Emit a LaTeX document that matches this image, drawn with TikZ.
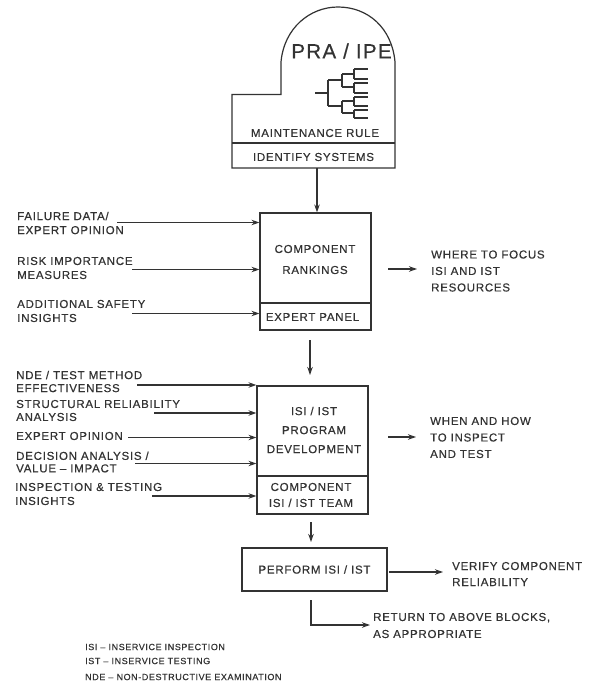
\documentclass[tikz,border=0pt]{standalone}
\usepackage{fontspec}
\setmainfont[LetterSpace=6.5,FakeBold=0.45]{Liberation Sans}
\usetikzlibrary{arrows.meta}
\definecolor{ink}{HTML}{333333}
\tikzset{
  x=1pt,y=-1pt,
  box/.style={draw=ink,line width=1.2pt,inner sep=0pt},
  flow/.style={draw=ink,line width=1.1pt,-{Stealth[length=8pt,width=5.5pt]}},
  lab/.style={anchor=west,align=left,text=ink,font=\fontsize{11.5}{14}\selectfont,inner sep=0pt},
  ctr/.style={align=center,text=ink,font=\fontsize{11.5}{14}\selectfont,inner sep=0pt},
  note/.style={anchor=west,text=ink,font=\fontsize{9}{10}\selectfont,inner sep=0pt},
}
\begin{document}
\begin{tikzpicture}
\useasboundingbox (0,0) rectangle (592,682);
\fill[white] (0,0) rectangle (592,682);
% PRA block
\draw[box] (232,94.5) -- (281,94.5) -- (281,62) .. controls (284,28) and (310,7) .. (338,7) .. controls (368,7) and (392,28) .. (395,62) -- (395,168) -- (232,168) -- cycle;
\draw[box] (232,143) -- (395,143);
\node[text=ink,font=\fontsize{20.5}{22}\selectfont,inner sep=0pt] (pra) at (341.5,51) {PRA / IPE};
\node[ctr] (mr) at (315,133) {MAINTENANCE RULE};
\node[ctr] (ids) at (313.5,157) {IDENTIFY SYSTEMS};
\coordinate (prab) at (317,168);
% tree
\draw[ink,line width=1.2pt] (315,93)--(328,93) (328,80)--(328,106) (328,80)--(342,80) (328,106)--(342,106)
 (342,74)--(342,87) (342,74)--(354,74) (342,87)--(354,87)
 (354,69)--(354,79) (354,69)--(368,69) (354,79)--(368,79)
 (354,83)--(354,93) (354,83)--(368,83) (354,93)--(368,93)
 (342,101)--(342,113) (342,101)--(354,101) (342,113)--(354,113)
 (354,97)--(354,106) (354,97)--(368,97) (354,106)--(368,106)
 (354,110)--(354,118) (354,110)--(368,110) (354,118)--(368,118);
% component rankings
\node[box,minimum width=111pt,minimum height=117pt] (cr) at (315.5,271.5) {};
\draw[box] (cr.west |- 0,303) -- (cr.east |- 0,303);
\node[ctr,font=\fontsize{11.5}{21}\selectfont] (crt) at (315,259.5) {COMPONENT\\RANKINGS};
\node[ctr] (ep) at (312.5,317) {EXPERT PANEL};
% ISI box
\node[box,minimum width=111pt,minimum height=128pt] (pd) at (312.5,450) {};
\draw[box] (pd.west |- 0,476) -- (pd.east |- 0,476);
\node[ctr,font=\fontsize{11.5}{19}\selectfont] (pdt) at (314,430) {ISI / IST\\PROGRAM\\DEVELOPMENT};
\node[ctr,font=\fontsize{11.5}{16}\selectfont] (ct) at (311,495) {COMPONENT\\ISI / IST TEAM};
% perform
\node[box,line width=1.6pt,minimum width=145pt,minimum height=43pt,ctr] (pf) at (314.5,569.5) {PERFORM ISI / IST};
% main arrows
\draw[flow] (prab) -- (prab |- cr.north);
\coordinate (a2) at (310,340);\coordinate (a2e) at (310,375);
\draw[flow] (a2) -- (a2e);
\coordinate (a3) at (311,522);\coordinate (a3e) at (311,542);
\draw[flow] (a3) -- (a3e);
% left inputs 1
\node[lab] (f) at (17,223) {FAILURE DATA/\\EXPERT OPINION};
\node[lab] (r) at (17,268) {RISK IMPORTANCE\\MEASURES};
\node[lab] (a) at (17,311) {ADDITIONAL SAFETY\\INSIGHTS};
\coordinate (f0) at (117,222.5);\coordinate (r0) at (132,269.5);\coordinate (a0) at (132,313.5);
\draw[flow] (f0) -- (f0 -| cr.west);
\draw[flow] (r0) -- (r0 -| cr.west);
\draw[flow] (a0) -- (a0 -| cr.west);
% left inputs 2
\node[lab,font=\fontsize{11.5}{13}\selectfont] (n) at (16,381.5) {NDE / TEST METHOD\\EFFECTIVENESS};
\node[lab,font=\fontsize{11.5}{13}\selectfont] (s) at (16,410.5) {STRUCTURAL RELIABILITY\\ANALYSIS};
\node[lab] (e) at (16,436) {EXPERT OPINION};
\node[lab,font=\fontsize{11.5}{12.5}\selectfont] (d) at (16,462) {DECISION ANALYSIS /\\VALUE -- IMPACT};
\node[lab] (i) at (15,494) {INSPECTION \& TESTING\\INSIGHTS};
\coordinate (n0) at (137,385);\coordinate (s0) at (154,413);\coordinate (e0) at (128,437.5);\coordinate (d0) at (135,463.5);\coordinate (i0) at (152,496);
\draw[flow] (n0) -- (n0 -| pd.west);
\draw[flow] (s0) -- (s0 -| pd.west);
\draw[flow] (e0) -- (e0 -| pd.west);
\draw[flow] (d0) -- (d0 -| pd.west);
\draw[flow] (i0) -- (i0 -| pd.west);
% outputs
\node[lab,font=\fontsize{11.5}{16.5}\selectfont] (w1) at (431,271) {WHERE TO FOCUS\\ISI AND IST\\RESOURCES};
\node[lab,font=\fontsize{11.5}{16.5}\selectfont] (w2) at (430,437.5) {WHEN AND HOW\\TO INSPECT\\AND TEST};
\node[lab,font=\fontsize{11.5}{16}\selectfont] (v) at (452,574) {VERIFY COMPONENT\\RELIABILITY};
\node[lab,font=\fontsize{11.5}{17}\selectfont] (ra) at (373,625.5) {RETURN TO ABOVE BLOCKS,\\AS APPROPRIATE};
\coordinate (o1) at (388,269);\coordinate (o1e) at (417,269);
\coordinate (o2) at (388,437);\coordinate (o2e) at (416,437);
\coordinate (o3) at (389,572);\coordinate (o3e) at (443,572);
\coordinate (b0) at (311,600);\coordinate (b1) at (311,625);\coordinate (b2) at (370,625);
\draw[flow] (o1) -- (o1e);
\draw[flow] (o2) -- (o2e);
\draw[flow] (o3) -- (o3e);
\draw[flow] (b0) -- (b1) -- (b2);
% notes
\node[note] (n1) at (85,647) {ISI -- INSERVICE INSPECTION};
\node[note] (n2) at (85,661) {IST -- INSERVICE TESTING};
\node[note] (n3) at (85,677) {NDE -- NON-DESTRUCTIVE EXAMINATION};
\end{tikzpicture}
\end{document}
